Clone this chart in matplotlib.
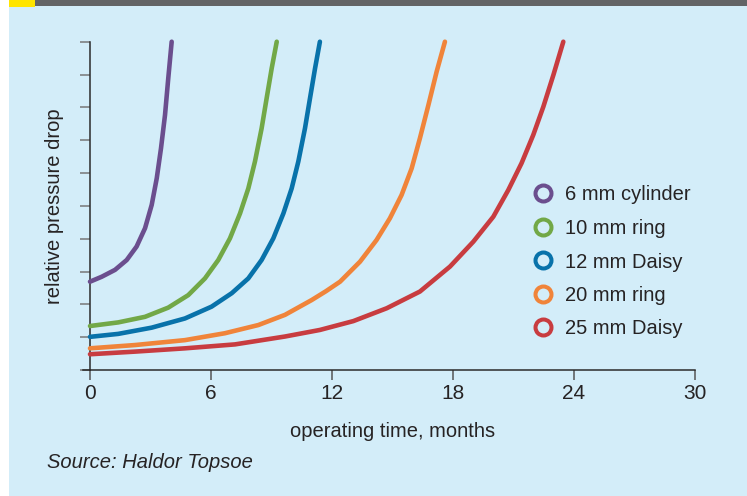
import matplotlib
matplotlib.use("Agg")
import matplotlib.pyplot as plt
from matplotlib.lines import Line2D
from matplotlib.patches import Rectangle

plt.rcParams["font.family"] = ["Liberation Sans", "DejaVu Sans"]

# Relative pressure drop vs. operating time for different catalyst shapes
series_names = ["6 mm cylinder", "10 mm ring", "12 mm Daisy", "20 mm ring", "25 mm Daisy"]
series_colors = ["#6B4E8E", "#72A847", "#0872AA", "#F0843A", "#C83C40"]

cyl6_months = [0, 0.58, 1.24, 1.82, 2.31, 2.73, 3.06, 3.31, 3.52, 3.72, 3.88, 4.05]
cyl6_drop = [2.69, 2.84, 3.05, 3.35, 3.76, 4.32, 5.03, 5.84, 6.75, 7.77, 8.88, 10.0]

ring10_months = [0, 1.40, 2.73, 3.88, 4.87, 5.70, 6.36, 6.94, 7.44, 7.85, 8.18,
                 8.51, 8.76, 9.01, 9.26]
ring10_drop = [1.34, 1.45, 1.62, 1.90, 2.28, 2.79, 3.35, 4.01, 4.77, 5.53, 6.35,
               7.36, 8.28, 9.19, 10.0]

daisy12_months = [0, 1.40, 3.06, 4.71, 6.03, 7.03, 7.85, 8.51, 9.09, 9.59, 10.00,
                  10.33, 10.66, 10.91, 11.16, 11.40]
daisy12_drop = [1.01, 1.10, 1.29, 1.57, 1.93, 2.34, 2.79, 3.35, 4.01, 4.77, 5.53,
                6.35, 7.36, 8.28, 9.19, 10.0]

ring20_months = [0, 2.23, 4.71, 6.69, 8.35, 9.67, 10.99, 11.70, 12.40, 13.39, 14.21,
                 14.87, 15.45, 15.95, 16.36, 16.78, 17.19, 17.60]
ring20_drop = [0.66, 0.76, 0.91, 1.12, 1.37, 1.68, 2.13, 2.40, 2.69, 3.30, 3.96,
               4.62, 5.33, 6.14, 7.06, 8.07, 9.09, 10.0]

daisy25_months = [0, 2.23, 4.71, 7.19, 9.67, 11.40, 13.06, 14.71, 16.36, 17.85, 19.01,
                  20.00, 20.74, 21.40, 21.98, 22.48, 22.98, 23.47]
daisy25_drop = [0.48, 0.56, 0.66, 0.78, 1.02, 1.22, 1.49, 1.88, 2.39, 3.15, 3.91,
                4.67, 5.48, 6.30, 7.16, 8.02, 8.99, 10.0]

x_ticks = [0, 6, 12, 18, 24, 30]
y_ticks = list(range(0, 11))

series = [
    (cyl6_months, cyl6_drop),
    (ring10_months, ring10_drop),
    (daisy12_months, daisy12_drop),
    (ring20_months, ring20_drop),
    (daisy25_months, daisy25_drop),
]

TEXT = "#262324"
W, H = 747, 496
fig = plt.figure(figsize=(W / 100, H / 100), dpi=100)
fig.patch.set_facecolor("white")

# panel background and header strip
fig.add_artist(Rectangle((9 / W, 0), 1 - 9 / W, 1, transform=fig.transFigure,
                         facecolor="#D3EDF9", edgecolor="none", zorder=-10))
fig.add_artist(Rectangle((9 / W, 1 - 6 / H), 1 - 9 / W, 6 / H, transform=fig.transFigure,
                         facecolor="#636466", edgecolor="none", zorder=-9))
fig.add_artist(Rectangle((9 / W, 1 - 7 / H), 26 / W, 7 / H, transform=fig.transFigure,
                         facecolor="#FFE500", edgecolor="none", zorder=-8))

ax = fig.add_axes([90 / W, 1 - 370 / H, (695 - 90) / W, (370 - 41.7) / H])
ax.set_facecolor("none")

for (xs, ys), c in zip(series, series_colors):
    ax.plot(xs, ys, color=c, lw=3.3, solid_capstyle="round", solid_joinstyle="round",
            antialiased=True, clip_on=False, zorder=3)

ax.set_xlim(0, 30)
ax.set_ylim(0, 10)
ax.set_xticks(x_ticks)
ax.set_xticklabels([str(t) for t in x_ticks])
ax.set_yticks(y_ticks)
ax.set_yticklabels([])

for s in ["top", "right"]:
    ax.spines[s].set_visible(False)
for s in ["left", "bottom"]:
    ax.spines[s].set_color("#2B2B2B")
    ax.spines[s].set_linewidth(1.1)

ax.tick_params(axis="x", direction="out", length=7, width=1.1, color="#555555",
               labelsize=15, labelcolor=TEXT, pad=3)
ax.tick_params(axis="y", direction="out", length=7, width=1.1, color="#777777")

# bottom axis line runs a little past the y axis
ax.plot([-0.012, 0], [0, 0], transform=ax.transAxes, color="#2B2B2B", lw=1.1,
        clip_on=False)

ax.set_xlabel("operating time, months", fontsize=14.5, color=TEXT, labelpad=14)
fig.text(55 / W, 1 - 206 / H, "relative pressure drop", fontsize=14.5, color=TEXT,
         rotation=90, ha="center", va="center")

handles = [Line2D([], [], ls="none", marker="o", markersize=11.5, markerfacecolor="none",
                  markeredgecolor=c, markeredgewidth=2.9) for c in series_colors]
leg = fig.legend(handles, series_names, loc="center left",
                 bbox_to_anchor=(533 / W, 1 - 262 / H), bbox_transform=fig.transFigure,
                 frameon=False, handletextpad=0.6, labelspacing=0.72, handlelength=1.0,
                 borderpad=0, borderaxespad=0, fontsize=14.5)
for t in leg.get_texts():
    t.set_color(TEXT)

fig.text(47 / W, 1 - 462 / H, "Source: Haldor Topsoe", fontsize=14.5, style="italic",
         color=TEXT, va="center", ha="left")

fig.savefig("out.png", dpi=100)
